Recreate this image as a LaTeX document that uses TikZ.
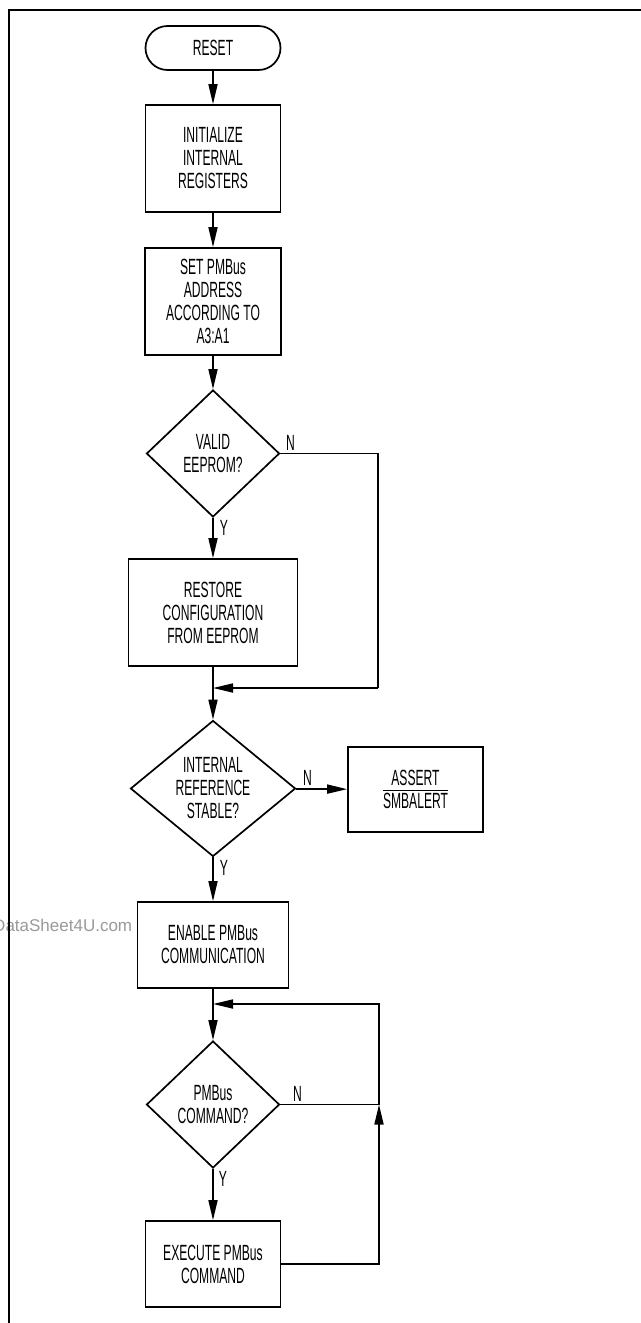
\documentclass[tikz,border=0pt]{standalone}
\usepackage{fontspec}
\setmainfont{Liberation Sans}[FakeStretch=0.55]
\newfontfamily\wmfont{Liberation Sans}
\usetikzlibrary{arrows.meta,shapes.geometric,shapes.misc}
\begin{document}
\begin{tikzpicture}[x=0.5pt,y=-0.5pt,line width=0.85pt,
	every node/.style={font=\fontsize{11}{11.5}\selectfont,align=center},
	term/.style={draw,rounded rectangle,minimum width=67.5pt,minimum height=22pt,inner sep=0pt},
	stepbox/.style={draw,rectangle,inner sep=0pt},
	decide/.style={draw,diamond,aspect=1,inner sep=0pt,minimum width=66.5pt,minimum height=63.5pt},
	arr/.style={-{Triangle[length=10pt,width=4.5pt]}},
	ylab/.style={anchor=north west,inner sep=1pt,xshift=2pt},
	nlab/.style={anchor=south west,inner sep=1pt}]
	\useasboundingbox (0,0) rectangle (641,1323);
	% watermark
	\node[anchor=base east,inner sep=0pt,text=black!40,font=\wmfont\fontsize{8.5}{10}\selectfont] (wm) at (133,931) {DataSheet4U.com};
	% frame
	\draw[line width=1pt] (641,10) -- (9,10) -- (9,1323);
	% main column
	\node[term] (reset) at (213,48) {RESET};
	\node[stepbox,minimum width=67.5pt,minimum height=53.5pt] (init) at (213,158.5) {INITIALIZE\\INTERNAL\\REGISTERS};
	\node[stepbox,minimum width=68pt,minimum height=53.5pt] (addr) at (213,301.5) {SET PMBus\\ADDRESS\\ACCORDING TO\\A3:A1};
	\node[decide] (valid) at (213,453.5) {VALID\\EEPROM?};
	\node[stepbox,minimum width=84.5pt,minimum height=53.5pt] (restore) at (213,612.5) {RESTORE\\CONFIGURATION\\FROM EEPROM};
	\node[decide,minimum width=82.5pt] (stable) at (213,788.5) {INTERNAL\\REFERENCE\\STABLE?};
	\node[stepbox,minimum width=67.5pt,minimum height=42.5pt] (alert) at (415.5,789.5) {ASSERT\\$\overline{\mbox{SMBALERT}}$};
	\node[stepbox,minimum width=75.5pt,minimum height=43pt] (enable) at (213,945) {ENABLE PMBus\\COMMUNICATION};
	\node[decide] (cmd) at (213,1104.5) {PMBus\\COMMAND?};
	\node[stepbox,minimum width=67.5pt,minimum height=43pt] (exec) at (213,1264) {EXECUTE PMBus\\COMMAND};
	% junctions
	\coordinate (j1) at (213,688);
	\coordinate (r1) at (378,688);
	\coordinate (j2) at (213,1004);
	\coordinate (r2) at (379,1104.5);
	% connectors
	\draw[arr] (reset) -- (init);
	\draw[arr] (init) -- (addr);
	\draw[arr] (addr) -- (valid);
	\draw[arr] (valid) -- (restore);
	\node[ylab] (y1) at (valid.south) {Y};
	\draw (valid.east) -- (valid.east -| r1) -- (r1);
	\node[nlab,xshift=1.5pt] (n1) at (valid.east) {N};
	\draw[arr] (r1) -- (j1);
	\draw (restore) -- (j1);
	\draw[arr] (j1) -- (stable);
	\draw[arr] (stable) -- (alert);
	\node[nlab,xshift=2pt] (n2) at (stable.east) {N};
	\draw[arr] (stable) -- (enable);
	\node[ylab] (y2) at (stable.south) {Y};
	\draw (enable) -- (j2);
	\draw[arr] (j2) -- (cmd);
	\draw[arr] (cmd) -- (exec);
	\node[ylab,xshift=-0.5pt] (y3) at (cmd.south) {Y};
	\draw (cmd.east) -- (r2);
	\node[nlab,xshift=5pt] (n3) at (cmd.east) {N};
	\draw[arr] (exec.east) -| (r2);
	\draw[arr] (r2) -- (r2 |- j2) -- (j2);
\end{tikzpicture}
\end{document}
